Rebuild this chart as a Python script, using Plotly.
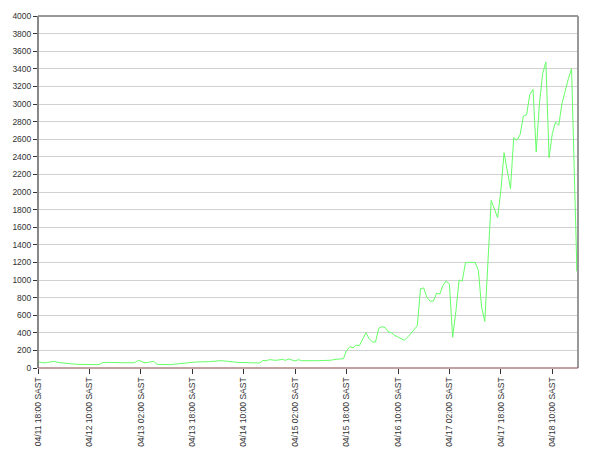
import plotly.graph_objects as go

times = [
    "2024-04-11 18:00", "2024-04-11 20:00", "2024-04-11 21:00", "2024-04-11 23:00",
    "2024-04-12 00:00", "2024-04-12 02:00", "2024-04-12 04:00", "2024-04-12 06:00",
    "2024-04-12 09:00", "2024-04-12 13:00", "2024-04-12 14:00", "2024-04-12 16:00",
    "2024-04-12 20:00", "2024-04-13 00:00", "2024-04-13 01:00", "2024-04-13 02:00",
    "2024-04-13 03:00", "2024-04-13 04:00", "2024-04-13 06:00", "2024-04-13 07:00",
    "2024-04-13 11:00", "2024-04-13 13:00", "2024-04-13 15:00", "2024-04-13 19:00",
    "2024-04-13 23:00", "2024-04-14 03:00", "2024-04-14 05:00", "2024-04-14 08:00",
    "2024-04-14 12:00", "2024-04-14 15:00", "2024-04-14 16:00", "2024-04-14 17:00",
    "2024-04-14 18:00", "2024-04-14 20:00", "2024-04-14 22:00", "2024-04-14 23:00",
    "2024-04-15 00:00", "2024-04-15 02:00", "2024-04-15 03:00", "2024-04-15 04:00",
    "2024-04-15 09:00", "2024-04-15 13:00", "2024-04-15 15:00", "2024-04-15 17:00",
    "2024-04-15 18:00", "2024-04-15 19:00", "2024-04-15 20:00", "2024-04-15 21:00",
    "2024-04-15 22:00", "2024-04-16 00:00", "2024-04-16 01:00", "2024-04-16 02:00",
    "2024-04-16 03:00", "2024-04-16 04:00", "2024-04-16 05:00", "2024-04-16 06:00",
    "2024-04-16 07:00", "2024-04-16 08:00", "2024-04-16 09:00", "2024-04-16 10:00",
    "2024-04-16 12:00", "2024-04-16 14:00", "2024-04-16 16:00", "2024-04-16 17:00",
    "2024-04-16 18:00", "2024-04-16 19:00", "2024-04-16 20:00", "2024-04-16 21:00",
    "2024-04-16 22:00", "2024-04-16 23:00", "2024-04-17 00:00", "2024-04-17 01:00",
    "2024-04-17 02:00", "2024-04-17 03:00", "2024-04-17 04:00", "2024-04-17 05:00",
    "2024-04-17 06:00", "2024-04-17 07:00", "2024-04-17 10:00", "2024-04-17 11:00",
    "2024-04-17 12:00", "2024-04-17 13:00", "2024-04-17 15:00", "2024-04-17 17:00",
    "2024-04-17 18:00", "2024-04-17 19:00", "2024-04-17 21:00", "2024-04-17 22:00",
    "2024-04-17 23:00", "2024-04-18 00:00", "2024-04-18 01:00", "2024-04-18 02:00",
    "2024-04-18 03:00", "2024-04-18 04:00", "2024-04-18 05:00", "2024-04-18 06:00",
    "2024-04-18 07:00", "2024-04-18 08:00", "2024-04-18 09:00", "2024-04-18 10:00",
    "2024-04-18 11:00", "2024-04-18 12:00", "2024-04-18 13:00", "2024-04-18 15:00",
    "2024-04-18 16:00", "2024-04-18 17:40", "2024-04-18 18:00",
]

values = [
    70, 57, 64, 76,
    64, 53, 49, 42,
    38, 38, 60, 64,
    60, 60, 83, 80,
    60, 62, 76, 42,
    38, 45, 60, 68,
    72, 83, 76, 64,
    60, 57, 87, 83,
    95, 87, 98, 87,
    102, 80, 95, 83,
    83, 88, 100, 105,
    200, 240, 230, 260,
    255, 400, 335, 295,
    295, 450, 470, 460,
    410, 400, 370, 350,
    315, 390, 480, 900,
    910, 800, 760, 760,
    850, 840, 940, 990,
    950, 350, 640, 1000,
    990, 1200, 1200, 1110,
    693, 530, 1905, 1708,
    2018, 2446, 2037, 2617,
    2587, 2651, 2863, 2878,
    3109, 3166, 2454, 3003,
    3344, 3477, 2390, 2662,
    2795, 2757, 3003, 3287,
    3401, 1100, 1550,
]

x_range = ["2024-04-11 18:00", "2024-04-18 18:00"]
y_range = [0, 4000]

fig = go.Figure()
fig.add_trace(go.Scatter(
    x=times, y=values, mode="lines",
    line=dict(color="#66ff66", width=1),
    hoverinfo="x+y",
))

tick_font = dict(family="Liberation Sans, Arial, sans-serif", size=8.5, color="#333333")

fig.update_layout(
    width=600, height=450,
    margin=dict(l=38, r=22, t=16, b=82),
    paper_bgcolor="white", plot_bgcolor="white",
    showlegend=False,
    xaxis=dict(
        type="date", range=x_range, automargin=False,
        tick0="2024-04-11 18:00", dtick=16 * 3600 * 1000,
        tickformat="%m/%d %H:%M SAST", tickangle=-90,
        ticks="outside", ticklen=5, tickcolor="#333333",
        tickfont=tick_font, showgrid=False, zeroline=False,
        showline=False,
    ),
    yaxis=dict(
        range=y_range, dtick=200, tick0=0, automargin=False,
        ticks="outside", ticklen=4, tickcolor="#333333",
        tickfont=tick_font, showgrid=True, gridcolor="#d0d0d0", gridwidth=1,
        zeroline=False, showline=False,
    ),
    shapes=[
        dict(type="line", xref="paper", yref="paper", x0=0, x1=1, y0=1, y1=1,
             line=dict(color="#333333", width=1)),
        dict(type="line", xref="paper", yref="paper", x0=1, x1=1, y0=0, y1=1,
             line=dict(color="#999999", width=2)),
        dict(type="line", xref="paper", yref="paper", x0=0, x1=0, y0=0, y1=1,
             line=dict(color="#888888", width=2)),
        dict(type="line", xref="paper", yref="paper", x0=0, x1=1, y0=0, y1=0,
             line=dict(color="#884444", width=1)),
    ],
)

fig.write_html(
    "out.html",
    config={"displayModeBar": False},
    post_script="document.body.style.margin='0';document.body.style.padding='0';",
)
